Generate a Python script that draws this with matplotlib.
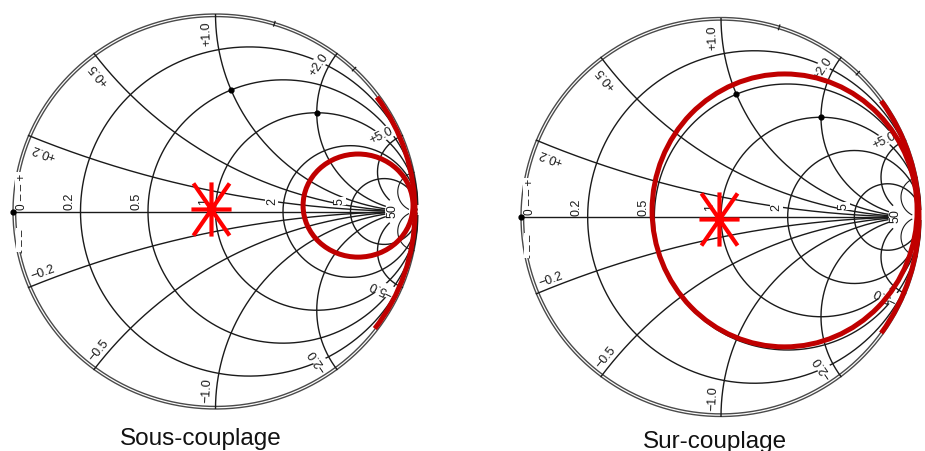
import numpy as np
import matplotlib
matplotlib.use("Agg")
import matplotlib.pyplot as plt
from matplotlib.patches import Ellipse, Arc
from matplotlib.path import Path

plt.rcParams["font.family"] = ["Liberation Sans", "DejaVu Sans"]

W, H = 925, 452

# Smith chart grid (normalised impedance values)
r_circles = [0.2, 0.5, 1.0, 2.0, 5.0]
r_labels = ["0.2", "0.5", "1", "2", "5"]
x_arcs = [0.2, 0.5, 1.0, 2.0, 5.0]
x_labels = ["0.2", "0.5", "1.0", "2.0", "5.0"]
x_fine = [10.0]
r_stop = 11.0
dot_r = [0.0, 0.5, 1.0]
dot_x = [0.0, 1.0, 2.0]
tick_deg = [73.0, 46.5]
end_labels = ["50", "\u221e"]
end_label_gx = [0.872, 0.99]

# red overlays, one entry per chart (reflection coefficient plane)
titles = ["Sous-couplage", "Sur-couplage"]
res_center = [(0.704, 0.030), (0.318, 0.033)]
res_size = [(0.543, 0.522), (1.325, 1.368)]
edge_radius = [0.985, 0.99]
edge_span = [(-37.0, 36.0), (-36.0, 36.0)]
star_gamma = [(-0.02, 0.013), (-0.01, -0.01)]

# where each chart sits in the picture, pixels (left, top, right, bottom)
boxes = [(13, 15, 418, 410), (521, 18.5, 921, 417.5)]
title_xy = [(201, 445), (715, 448)]

INK = "#1a1a1a"
DARK_RED = "#c00000"


def gamma(z):
    return (z - 1) / (z + 1)


def label(ax, x, y, s, rot, size=9):
    ax.text(x, y, s, rotation=rot, rotation_mode="anchor", ha="center", va="center",
            fontsize=size, color=INK, zorder=2,
            bbox=dict(fc="white", ec="none", pad=0.4))


def draw_grid(ax):
    t = np.linspace(0, 2 * np.pi, 500)
    for rad in (1.0, 0.987):
        ax.plot(rad * np.cos(t), rad * np.sin(t), color="#4a4a4a", lw=1.0, clip_on=False, zorder=1)

    for r in r_circles:
        c, rad = r / (1 + r), 1 / (1 + r)
        ax.plot(c + rad * np.cos(t), rad * np.sin(t), color=INK, lw=1.0, zorder=1)

    ax.plot([-1, gamma(r_stop)], [0, 0], color=INK, lw=1.0, zorder=1)

    rr = np.concatenate([[0.0], np.geomspace(1e-3, r_stop, 400)])
    for x in x_arcs:
        for s in (1, -1):
            g = gamma(rr + 1j * s * x)
            ax.plot(g.real, g.imag, color=INK, lw=1.0, zorder=1)
    rr_far = np.concatenate([[0.0], np.geomspace(1e-3, 40.0, 400)])
    for x in x_fine:
        for s in (1, -1):
            g = gamma(rr_far + 1j * s * x)
            ax.plot(g.real, g.imag, color=INK, lw=0.8, zorder=1)

    for a in np.radians(tick_deg):
        ax.plot([0.982 * np.cos(a), 1.006 * np.cos(a)], [0.982 * np.sin(a), 1.006 * np.sin(a)],
                color=INK, lw=0.9, clip_on=False)

    g = gamma(np.array(dot_r) + 1j * np.array(dot_x))
    ax.scatter(g.real, g.imag, s=12, color="black", zorder=2, clip_on=False)

    for r, s in zip(r_circles, r_labels):
        label(ax, gamma(r) - 0.055, 0.055, s, 90)
    for gx, s in zip(end_label_gx, end_labels):
        label(ax, gx, 0.008, s, 90)

    for x, s in zip(x_arcs, x_labels):
        th = np.degrees(2 * np.arctan(1 / x)) + 2.7
        a = np.radians(th)
        label(ax, 0.905 * np.cos(a), 0.905 * np.sin(a), "+" + s, th)
        label(ax, 0.905 * np.cos(-a), 0.905 * np.sin(-a), "\u2212" + s, 180 - th)

    label(ax, -0.956, 0.104, "0 \u2013 \u2013 +", 90, size=8.5)
    label(ax, -0.951, -0.144, "- \u2013 \u2013", 90, size=8.5)


star = Path([(-20, 0), (20, 0), (0, -27), (0, 27), (-18, 26), (18, -26), (18, 26), (-18, -26)],
            [Path.MOVETO, Path.LINETO] * 4)

fig = plt.figure(figsize=(W / 100, H / 100), dpi=100)

for i, (l, t, r, b) in enumerate(boxes):
    ax = fig.add_axes([l / W, 1 - b / H, (r - l) / W, (b - t) / H])
    ax.set_xlim(-1, 1)
    ax.set_ylim(-1, 1)
    ax.axis("off")
    draw_grid(ax)

    ax.add_patch(Ellipse(res_center[i], res_size[i][0], res_size[i][1], fill=False,
                         ec=DARK_RED, lw=3.6, zorder=3))
    er = edge_radius[i]
    ax.add_patch(Arc((0, 0), 2 * er, 2 * er, theta1=edge_span[i][0], theta2=edge_span[i][1],
                     ec=DARK_RED, lw=3.6, zorder=3, clip_on=False))
    ax.plot([star_gamma[i][0]], [star_gamma[i][1]], marker=star, ms=39, mec="#ff0000",
            mew=3.0, mfc="none", ls="none", zorder=4)

    tx, ty = title_xy[i]
    fig.text(tx / W, 1 - ty / H, titles[i], ha="center", va="baseline", fontsize=17.5, color="#111111")

fig.savefig("out.png", dpi=100)
